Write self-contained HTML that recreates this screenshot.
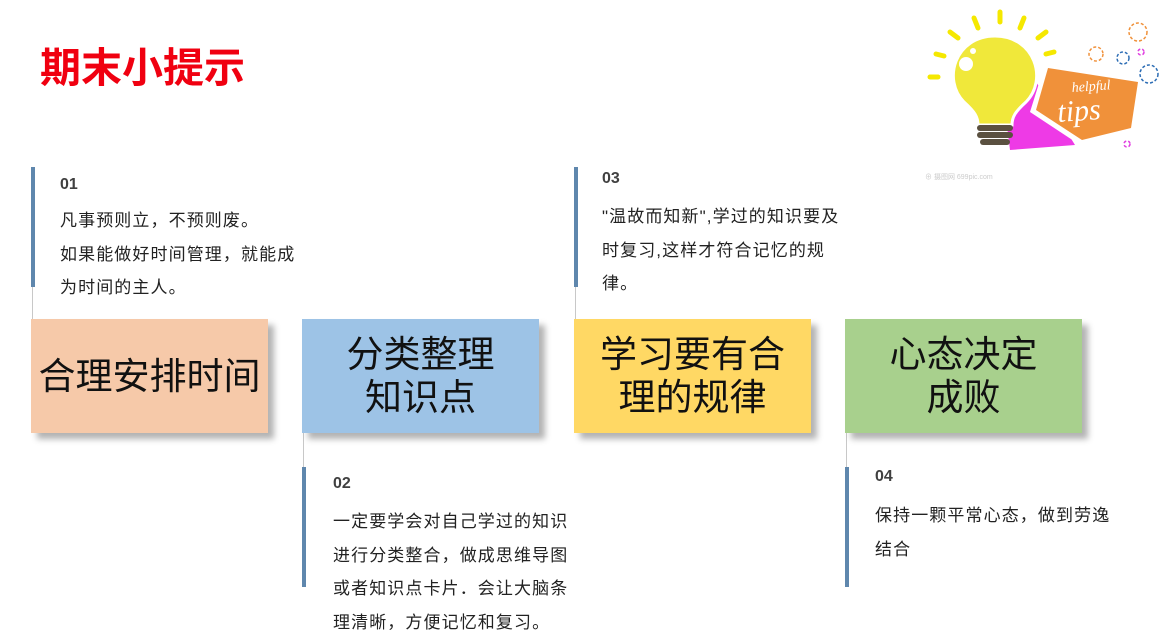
<!DOCTYPE html>
<html><head><meta charset="utf-8"><style>
body{margin:0;width:1162px;height:643px;background:#fff;position:relative;overflow:hidden;font-family:"Liberation Sans","Noto Sans CJK SC",sans-serif;}
.a{position:absolute}
.title{left:40px;top:34px;font-size:41px;font-weight:bold;color:#f00010;letter-spacing:0px}
.bar{position:absolute;width:4px;background:#5f87ad}
.ln{position:absolute;width:1px;background:#c8c8c8}
.num{position:absolute;font-size:16px;font-weight:bold;color:#404040}
.txt{position:absolute;font-size:17px;color:#222;line-height:33.5px;white-space:nowrap;letter-spacing:1.1px}
.box{position:absolute;top:319px;width:237px;height:114px;box-shadow:6px 6px 6px rgba(0,0,0,0.3);display:flex;align-items:center;justify-content:center;text-align:center;font-size:37px;line-height:43px;color:#111}
</style></head><body>
<div class="a title">期末小提示</div>

<div class="bar" style="left:31px;top:167px;height:120px"></div>
<div class="ln" style="left:32px;top:287px;height:32px"></div>
<div class="num" style="left:60px;top:176px">01</div>
<div class="txt" style="left:60px;top:204px">凡事预则立，不预则废。<br>如果能做好时间管理，就能成<br>为时间的主人。</div>

<div class="bar" style="left:574px;top:167px;height:120px"></div>
<div class="ln" style="left:575px;top:287px;height:32px"></div>
<div class="num" style="left:602px;top:170px">03</div>
<div class="txt" style="left:602px;top:200px">"温故而知新",学过的知识要及<br>时复习,这样才符合记忆的规<br>律。</div>

<div class="ln" style="left:303px;top:433px;height:34px"></div>
<div class="bar" style="left:302px;top:467px;height:120px"></div>
<div class="num" style="left:333px;top:475px">02</div>
<div class="txt" style="left:333px;top:505px">一定要学会对自己学过的知识<br>进行分类整合，做成思维导图<br>或者知识点卡片．会让大脑条<br>理清晰，方便记忆和复习。</div>

<div class="ln" style="left:846px;top:433px;height:34px"></div>
<div class="bar" style="left:845px;top:467px;height:120px"></div>
<div class="num" style="left:875px;top:468px">04</div>
<div class="txt" style="left:875px;top:499px">保持一颗平常心态，做到劳逸<br>结合</div>

<div class="box" style="left:31px;background:#f6c9a9">合理安排时间</div>
<div class="box" style="left:302px;background:#9dc3e6">分类整理<br>知识点</div>
<div class="box" style="left:574px;background:#ffd864">学习要有合<br>理的规律</div>
<div class="box" style="left:845px;background:#a8d08d">心态决定<br>成败</div>

<svg class="a" style="left:900px;top:0" width="262" height="190" viewBox="0 0 262 190">
<g stroke="#f5e800" stroke-width="5" stroke-linecap="round">
<line x1="100" y1="12" x2="100" y2="22"/><line x1="74" y1="18" x2="78" y2="28"/><line x1="124" y1="18" x2="120" y2="28"/>
<line x1="50" y1="32" x2="58" y2="38"/><line x1="146" y1="32" x2="138" y2="38"/><line x1="36" y1="54" x2="44" y2="56"/>
<line x1="30" y1="77" x2="38" y2="77"/><line x1="146" y1="54" x2="154" y2="52"/><line x1="152" y1="77" x2="160" y2="77"/></g>
<polygon points="135,80 175,145 110,150 105,110" fill="#ee3ae6"/>
<polygon points="145,64 242,80 235,130 180,145 130,112" fill="#fff"/>
<polygon points="148,68 238,82 231,128 182,140 136,110" fill="#f0913a"/>
<text x="172" y="92" font-family="Liberation Serif,serif" font-style="italic" font-size="14" fill="#fff" transform="rotate(-4 172 92)">helpful</text>
<text x="158" y="122" font-family="Liberation Serif,serif" font-style="italic" font-size="30" fill="#fff" transform="rotate(-4 158 122)">tips</text>
<path d="M95,36 C55,36 42,80 64,102 C75,112 78,117 78,125 L112,125 C112,117 115,112 126,102 C148,80 135,36 95,36Z" fill="#f0e83a" stroke="#fff" stroke-width="3"/>
<circle cx="66" cy="64" r="7" fill="#fff"/><circle cx="73" cy="51" r="3" fill="#fff"/>
<rect x="77" y="125" width="36" height="6" rx="3" fill="#5a5040"/><rect x="77" y="132" width="36" height="6" rx="3" fill="#5a5040"/><rect x="80" y="139" width="30" height="6" rx="3" fill="#5a5040"/>
<g fill="none" stroke-width="1.5" stroke-dasharray="3 2">
<circle cx="238" cy="32" r="9" stroke="#f0913a"/><circle cx="196" cy="54" r="7" stroke="#f0913a"/><circle cx="223" cy="58" r="6" stroke="#2c6db5"/><circle cx="249" cy="74" r="9" stroke="#2c6db5"/><circle cx="241" cy="52" r="3" stroke="#e040e0"/><circle cx="227" cy="144" r="3" stroke="#e040e0"/></g>
<text x="25" y="179" font-size="7" fill="#ccc">⊕ 摄图网 699pic.com</text>
</svg>
</body></html>
